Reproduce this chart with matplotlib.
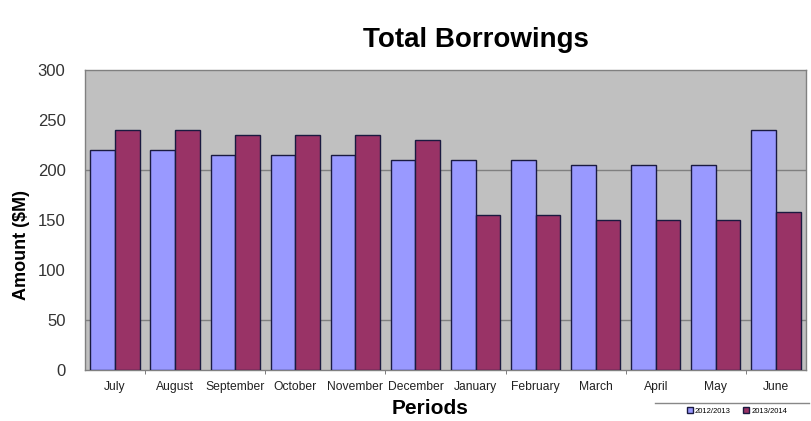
import numpy as np
import matplotlib
matplotlib.use("Agg")
import matplotlib.pyplot as plt
from matplotlib.patches import Patch

# Daten
perioden = ["July", "August", "September", "October", "November", "December",
            "January", "February", "March", "April", "May", "June"]
werte_2013 = [220, 220, 215, 215, 215, 210, 210, 210, 205, 205, 205, 240]
werte_2014 = [240, 240, 235, 235, 235, 230, 155, 155, 150, 150, 150, 158]
serien = ["2012/2013", "2013/2014"]
y_ticks = [0, 50, 100, 150, 200, 250, 300]

plt.rcParams["font.family"] = ["Liberation Sans", "DejaVu Sans"]

fig = plt.figure(figsize=(8.11, 4.21), dpi=100)
ax = fig.add_axes([0.1048, 0.1211, 0.889, 0.7126])
ax.set_facecolor("#c0c0c0")

x = np.arange(len(perioden))
breite = 0.41
ax.bar(x - breite / 2, werte_2013, breite, color="#9999ff", edgecolor="#1a1a40", linewidth=1.0, zorder=3)
ax.bar(x + breite / 2, werte_2014, breite, color="#993366", edgecolor="#1a1a40", linewidth=1.0, zorder=3)

# nur Linien bei 50 und 200 wie im Original
for g in (50, 200):
    ax.axhline(g, color="#808080", linewidth=1.0, zorder=1)

ax.set_xlim(-0.5, len(perioden) - 0.5)
ax.set_ylim(0, 300)
ax.set_yticks(y_ticks)
ax.tick_params(axis="y", length=0, labelsize=12, labelcolor="#333333", pad=14)

ax.set_xticks(x)
ax.set_xticklabels(perioden, fontsize=8.7, color="#222222")
ax.tick_params(axis="x", length=0, pad=8)
# kleine Trennstriche (jede zweite Gruppengrenze)
ax.set_xticks(np.arange(0.5, len(perioden), 2), minor=True)
ax.tick_params(axis="x", which="minor", length=3, color="#666666")

for s in ax.spines.values():
    s.set_color("#808080")
    s.set_linewidth(1.0)

fig.text(22 / 811, 1 - 245 / 421, "Amount ($M)", rotation=90, ha="center", va="center",
         fontsize=13, fontweight="bold")
fig.text(430 / 811, 1 - 409 / 421, "Periods", ha="center", va="center", fontsize=15, fontweight="bold")
fig.text(476 / 811, 1 - 40 / 421, "Total Borrowings", ha="center", va="center", fontsize=20, fontweight="bold")

# Legende unten rechts
fig.add_artist(plt.Line2D([0.808, 0.998], [0.043, 0.043], color="#888888", linewidth=1.0))
handles = [Patch(facecolor="#9999ff", edgecolor="#1a1a40"), Patch(facecolor="#993366", edgecolor="#1a1a40")]
fig.legend(handles, serien, loc="center", bbox_to_anchor=(737 / 811, 0.024), ncol=2, fontsize=5.5,
           frameon=False, handlelength=0.8, handleheight=0.8, columnspacing=1.6, handletextpad=0.3)

plt.savefig("out.png", dpi=100)
plt.close()
